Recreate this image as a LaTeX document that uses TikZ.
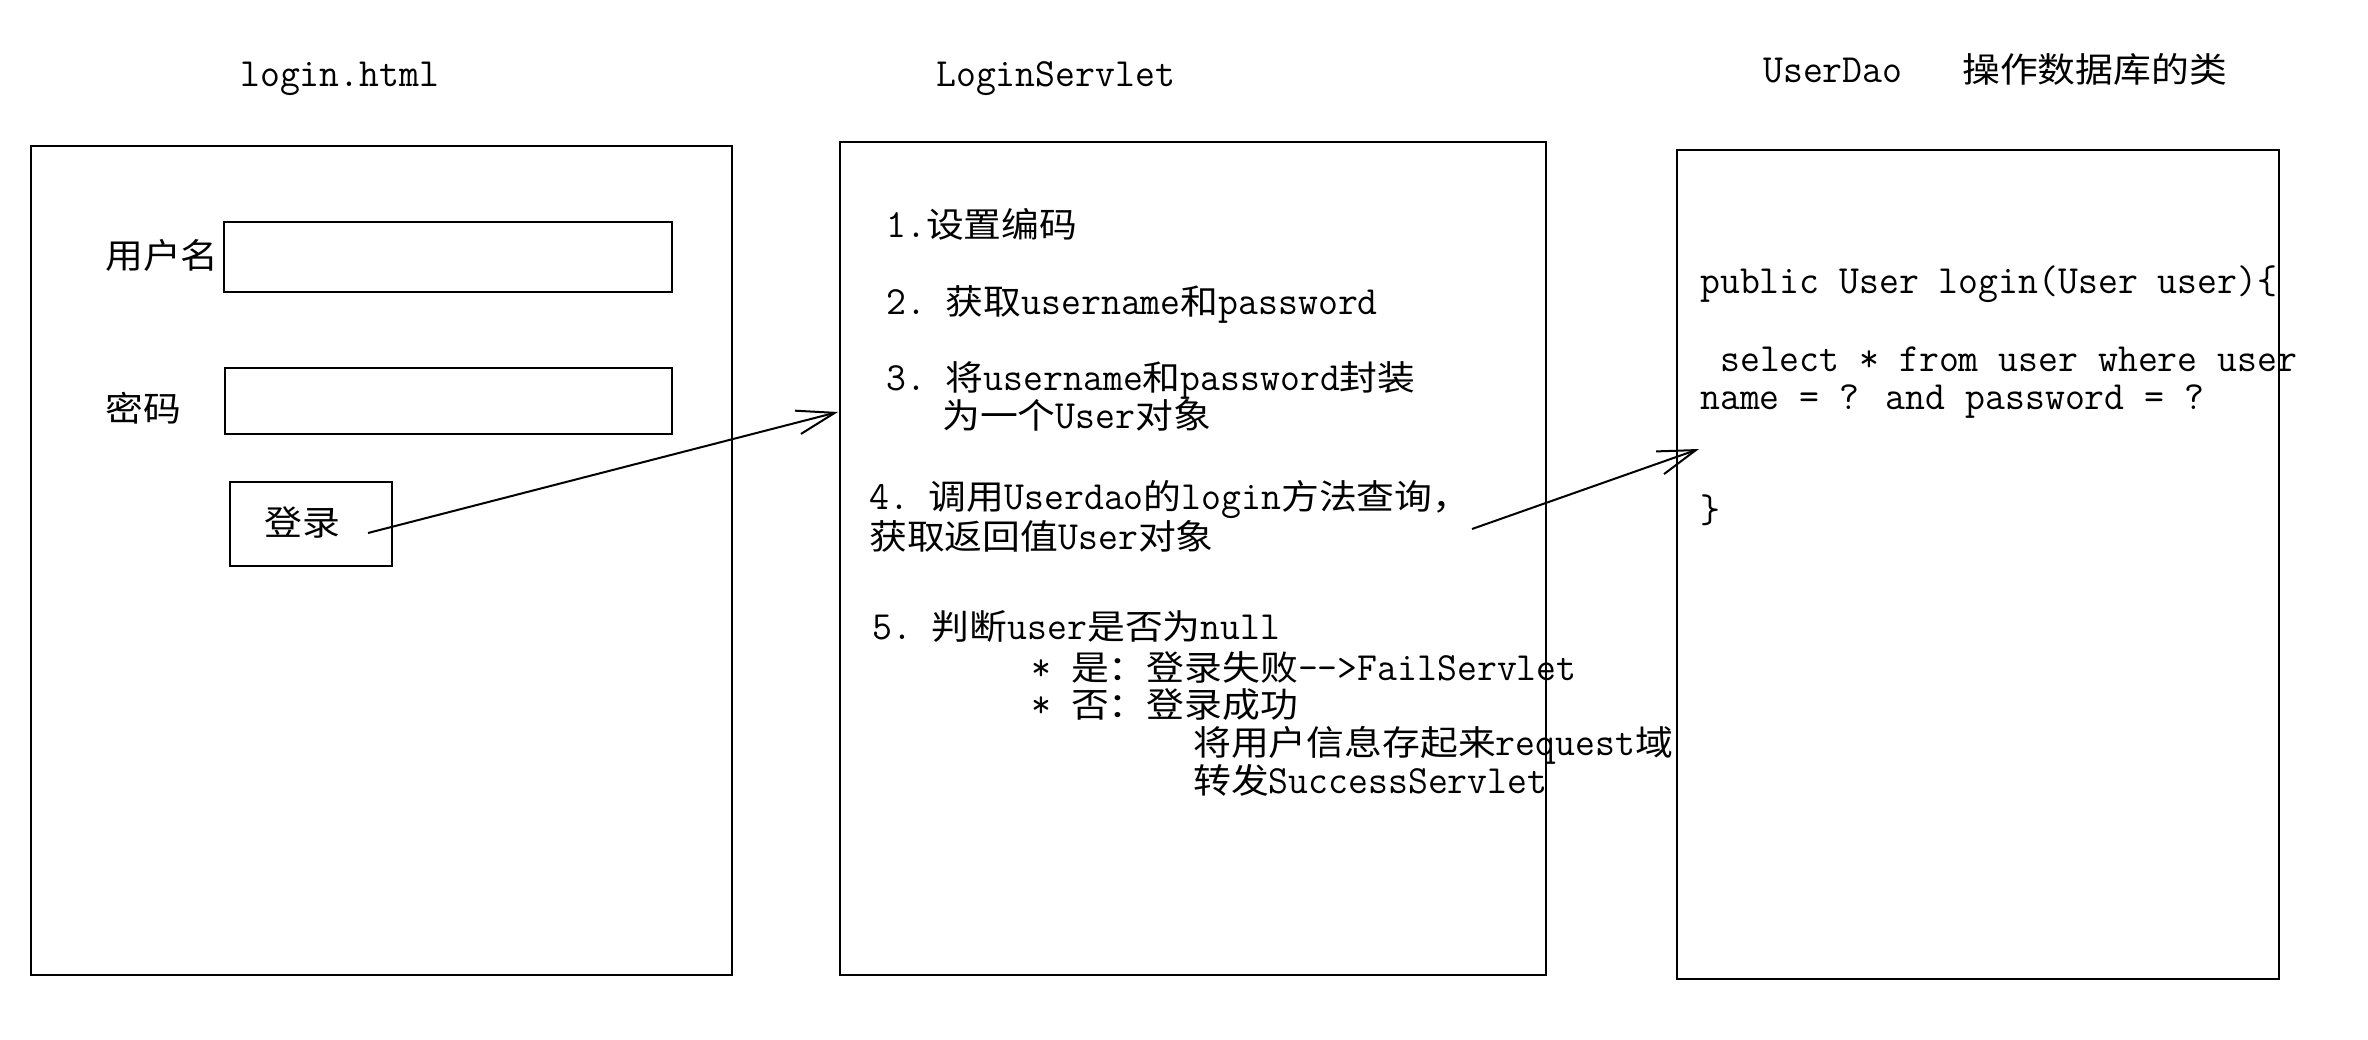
\documentclass[tikz,border=0pt]{standalone}
\usepackage{fontspec}
\newfontfamily\lat{Latin Modern Mono}[FakeStretch=0.966]
\newfontfamily\cjk{Noto Sans CJK SC}[Scale=0.86,FakeStretch=1.1]
\usetikzlibrary{arrows.meta}
\begin{document}
\begin{tikzpicture}[x=1pt,y=-1pt,
  box/.style={draw, line width=2.2pt, rectangle, inner sep=0pt, anchor=north west},
  txt/.style={anchor=base west, inner sep=0pt, font=\lat\fontsize{40}{44}\selectfont},
  conn/.style={line width=2pt, -{Straight Barb[length=38pt,width=24pt,line width=2pt]}}]
\useasboundingbox (0,0) rectangle (2368,1040);
\fill[white] (0,0) rectangle (2368,1040);

% titles
\node[txt] (h1) at (240,87) {login.html};
\node[txt] (h2) at (936,87) {LoginServlet};
\node[txt] (h3) at (1763,83) {UserDao\ \ \ {\cjk 操作数据库的类}};

% boxes
\node[box, minimum width=701pt, minimum height=829pt] (html) at (30,145) {};
\node[box, minimum width=706pt, minimum height=833pt] (servlet) at (839,141) {};
\node[box, minimum width=602pt, minimum height=829pt] (dao) at (1676,149) {};

% login form
\node[box, minimum width=448pt, minimum height=70pt] (f1) at (223,221) {};
\node[box, minimum width=447pt, minimum height=66pt] (f2) at (224,367) {};
\node[box, minimum width=162pt, minimum height=84pt] (btn) at (229,481) {};
\node[txt] (l1) at (105,269) {\cjk 用户名};
\node[txt] (l2) at (105,421) {\cjk 密码};
\node[txt] (l3) at (264,535) {\cjk 登录};

% servlet text
\node[txt] (s1) at (886,238) {1.{\cjk 设置编码}};
\node[txt] (s2) at (886,315) {2.\ {\cjk 获取}username{\cjk 和}password};
\node[txt] (s3) at (886,390) {3.\ {\cjk 将}username{\cjk 和}password{\cjk 封装}};
\node[txt] (s3b) at (942,428) {{\cjk 为一个}User{\cjk 对象}};
\node[txt] (s4) at (869,509) {4.\ {\cjk 调用}Userdao{\cjk 的}login{\cjk 方法查询，}};
\node[txt] (s4b) at (869,549) {{\cjk 获取返回值}User{\cjk 对象}};
\node[txt] (s5) at (872,639) {5.\ {\cjk 判断}user{\cjk 是否为}null};
\node[txt] (s5a) at (1031,680) {*\ {\cjk 是：登录失败}-->FailServlet};
\node[txt] (s5b) at (1031,717) {*\ {\cjk 否：登录成功}};
\node[txt] (s5c) at (1193,755) {{\cjk 将用户信息存起来}request{\cjk 域}};
\node[txt] (s5d) at (1193,793) {{\cjk 转发}SuccessServlet};

% dao text
\node[txt] (d1) at (1700,294) {public User login(User user)\{};
\node[txt] (d2) at (1720,371) {select * from user where user};
\node[txt] (d3) at (1700,409) {name = ? and password = ?};
\node[txt] (d4) at (1700,522) {\}};

% connectors
\coordinate (a1s) at (368,533);
\coordinate (a1t) at (838,412);
\coordinate (a2s) at (1472,529);
\coordinate (a2t) at (1699,449);
\draw[conn] (a1s) -- (a1t);
\draw[conn] (a2s) -- (a2t);
\end{tikzpicture}
\end{document}
